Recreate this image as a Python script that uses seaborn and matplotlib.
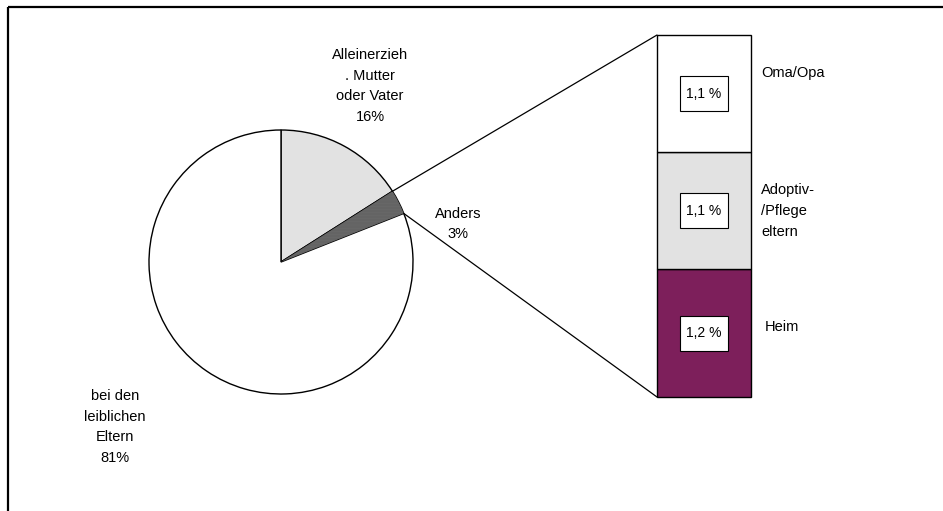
import numpy as np
import matplotlib
matplotlib.use("Agg")
import matplotlib.pyplot as plt
import seaborn as sns
from matplotlib.patches import ConnectionPatch, Wedge, Rectangle

# Daten
pie_labels = ["Alleinerzieh\n. Mutter\noder Vater\n16%", "Anders\n3%", "bei den\nleiblichen\nEltern\n81%"]
pie_values = [16, 3, 81]
pie_colors = ["#e2e2e2", "#222222", "#ffffff"]

bar_labels = ["Heim", "Adoptiv-\n/Pflege\neltern", "Oma/Opa"]
bar_values = [1.2, 1.1, 1.1]
bar_texts = ["1,2 %", "1,1 %", "1,1 %"]
bar_colors = ["#7d1f5b", "#e2e2e2", "#ffffff"]

title = "Wo wohnen die Schülerinnen und Schüler zurzeit?"

sns.set_theme(style="white")
plt.rcParams["font.family"] = ["Liberation Sans", "DejaVu Sans"]
plt.rcParams["text.color"] = "black"
plt.rcParams["hatch.linewidth"] = 0.4

W, H = 943, 511
fig = plt.figure(figsize=(W / 100, H / 100), dpi=100)
ax = fig.add_axes([0, 0, 1, 1])

# Kreisdiagramm
center = (281, 249)
radius = 132
wedges, _ = ax.pie(pie_values, colors=pie_colors, startangle=90, counterclock=False,
                   center=center, radius=radius,
                   wedgeprops=dict(edgecolor="black", linewidth=1))
# Schraffur für "Anders"
w = wedges[1]
ax.add_patch(Wedge(w.center, w.r, w.theta1, w.theta2, fill=False,
                   edgecolor="#6a6a6a", hatch="-" * 28, linewidth=0))

ax.set_xlim(0, W)
ax.set_ylim(0, H)
ax.set_aspect("equal")
ax.axis("off")

# Rahmen (rechts/unten abgeschnitten)
ax.plot([8, 8], [0, H - 7], color="black", lw=1.6, solid_capstyle="butt")
ax.plot([8, W], [H - 7, H - 7], color="black", lw=1.6, solid_capstyle="butt")
ax.text(20, H + 0.5, title, fontsize=14, va="baseline", ha="left", clip_on=False)

fs = 10.5
ls = 1.63
ax.text(370, H - 86, pie_labels[0], ha="center", va="center", fontsize=fs, linespacing=ls)
ax.text(458, H - 224, pie_labels[1], ha="center", va="center", fontsize=fs, linespacing=ls)
ax.text(115, H - 427, pie_labels[2], ha="center", va="center", fontsize=fs, linespacing=ls)

# Gestapelter Balken
bx0, by0, bw, bh = 657, 114, 94, 362
bax = fig.add_axes([bx0 / W, by0 / H, bw / W, bh / H])
bottoms = np.concatenate([[0], np.cumsum(bar_values)[:-1]])
bars = bax.bar([0] * len(bar_values), bar_values, bottom=bottoms, width=1.0, color=bar_colors,
               edgecolor="black", linewidth=1)
for r in bars:
    r.set_clip_on(False)
bax.set_xlim(-0.5, 0.5)
bax.set_ylim(0, sum(bar_values))
bax.axis("off")

tr = bax.get_yaxis_transform()  # x in Achsenanteilen, y in Daten
px_to_val = sum(bar_values) / bh
box_w, box_h = 48 / bw, 35 * px_to_val
label_x = {"Oma/Opa": 1.11, "Adoptiv-\n/Pflege\neltern": 1.11, "Heim": 1.15}
label_dy = {"Oma/Opa": 21, "Adoptiv-\n/Pflege\neltern": 0, "Heim": 6}
for b, v, t, lab in zip(bottoms, bar_values, bar_texts, bar_labels):
    mid = b + v / 2
    bax.add_patch(Rectangle((0.5 - box_w / 2, mid - box_h / 2), box_w, box_h, transform=tr,
                            facecolor="white", edgecolor="black", linewidth=0.8, zorder=3))
    bax.text(0.5, mid, t, transform=tr, ha="center", va="center", fontsize=10, zorder=4)
    bax.text(label_x[lab], mid + label_dy[lab] * px_to_val, lab, transform=tr,
             ha="left", va="center", fontsize=fs, linespacing=ls, clip_on=False)

# Verbindungslinien
cum = np.cumsum(pie_values)
a1 = np.deg2rad(90 - 360 * cum[0] / 100)
a2 = np.deg2rad(90 - 360 * cum[1] / 100)
p1 = (center[0] + radius * np.cos(a1), center[1] + radius * np.sin(a1))
p2 = (center[0] + radius * np.cos(a2), center[1] + radius * np.sin(a2))
for p, corner in [(p1, (0, 1)), (p2, (0, 0))]:
    con = ConnectionPatch(xyA=p, coordsA=ax.transData, xyB=corner, coordsB=bax.transAxes,
                          color="black", linewidth=0.9)
    fig.add_artist(con)

fig.savefig("out.png", dpi=100)
